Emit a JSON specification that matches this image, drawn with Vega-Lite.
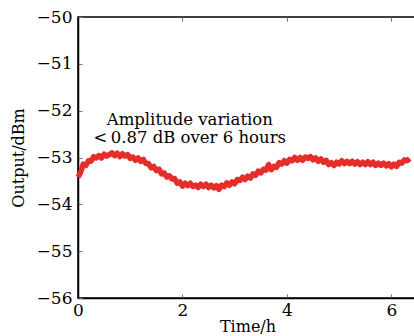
{
  "$schema": "https://vega.github.io/schema/vega-lite/v6.json",
  "autosize": "none",
  "width": 339,
  "height": 281,
  "padding": {"left": 78, "top": 17, "right": 0, "bottom": 38},
  "background": "white",
  "config": {
    "view": {"stroke": "black", "strokeWidth": 1.5},
    "font": "DejaVu Serif",
    "axis": {
      "labelFont": "DejaVu Serif",
      "titleFont": "DejaVu Serif",
      "labelFontSize": 17,
      "titleFontSize": 16,
      "titleFontWeight": "normal",
      "labelColor": "black",
      "titleColor": "black",
      "domainColor": "black",
      "domainWidth": 1.5,
      "tickColor": "#777777",
      "tickSize": -4,
      "tickWidth": 1,
      "grid": false
    }
  },
  "resolve": {"axis": {"x": "independent"}},
  "layer": [
    {
      "data": {"values": [
        {"t":0.00,"v":-53.42},{"t":0.05,"v":-53.32},{"t":0.10,"v":-53.14},{"t":0.15,"v":-53.17},{"t":0.20,"v":-53.07},
        {"t":0.25,"v":-53.08},{"t":0.30,"v":-52.98},{"t":0.35,"v":-53.01},{"t":0.40,"v":-52.96},{"t":0.45,"v":-53.01},
        {"t":0.50,"v":-52.93},{"t":0.55,"v":-52.97},{"t":0.60,"v":-52.94},{"t":0.65,"v":-52.90},{"t":0.70,"v":-52.96},
        {"t":0.75,"v":-52.91},{"t":0.80,"v":-52.98},{"t":0.85,"v":-52.92},{"t":0.90,"v":-52.97},{"t":0.95,"v":-52.94},
        {"t":1.00,"v":-53.02},{"t":1.05,"v":-52.99},{"t":1.10,"v":-53.06},{"t":1.15,"v":-53.01},{"t":1.20,"v":-53.08},
        {"t":1.25,"v":-53.04},{"t":1.30,"v":-53.13},{"t":1.35,"v":-53.13},{"t":1.40,"v":-53.22},{"t":1.45,"v":-53.19},
        {"t":1.50,"v":-53.28},{"t":1.55,"v":-53.25},{"t":1.60,"v":-53.35},{"t":1.65,"v":-53.33},{"t":1.70,"v":-53.42},
        {"t":1.75,"v":-53.39},{"t":1.80,"v":-53.46},{"t":1.85,"v":-53.45},{"t":1.90,"v":-53.55},{"t":1.95,"v":-53.52},
        {"t":2.00,"v":-53.61},{"t":2.05,"v":-53.55},{"t":2.10,"v":-53.60},{"t":2.15,"v":-53.55},{"t":2.20,"v":-53.62},
        {"t":2.25,"v":-53.59},{"t":2.30,"v":-53.64},{"t":2.35,"v":-53.57},{"t":2.40,"v":-53.62},{"t":2.45,"v":-53.57},
        {"t":2.50,"v":-53.64},{"t":2.55,"v":-53.59},{"t":2.60,"v":-53.65},{"t":2.65,"v":-53.60},{"t":2.70,"v":-53.68},
        {"t":2.75,"v":-53.59},{"t":2.80,"v":-53.62},{"t":2.85,"v":-53.54},{"t":2.90,"v":-53.59},{"t":2.95,"v":-53.52},
        {"t":3.00,"v":-53.56},{"t":3.05,"v":-53.47},{"t":3.10,"v":-53.49},{"t":3.15,"v":-53.42},{"t":3.20,"v":-53.47},
        {"t":3.25,"v":-53.40},{"t":3.30,"v":-53.44},{"t":3.35,"v":-53.35},{"t":3.40,"v":-53.38},{"t":3.45,"v":-53.29},
        {"t":3.50,"v":-53.33},{"t":3.55,"v":-53.25},{"t":3.60,"v":-53.27},{"t":3.65,"v":-53.15},{"t":3.70,"v":-53.26},
        {"t":3.75,"v":-53.19},{"t":3.80,"v":-53.21},{"t":3.85,"v":-53.11},{"t":3.90,"v":-53.14},{"t":3.95,"v":-53.07},
        {"t":4.00,"v":-53.12},{"t":4.05,"v":-53.04},{"t":4.10,"v":-53.07},{"t":4.15,"v":-53.00},{"t":4.20,"v":-53.06},
        {"t":4.25,"v":-53.00},{"t":4.30,"v":-53.06},{"t":4.35,"v":-52.99},{"t":4.40,"v":-53.02},{"t":4.45,"v":-52.98},
        {"t":4.50,"v":-53.05},{"t":4.55,"v":-53.01},{"t":4.60,"v":-53.08},{"t":4.65,"v":-53.03},{"t":4.70,"v":-53.10},
        {"t":4.75,"v":-53.06},{"t":4.80,"v":-53.15},{"t":4.85,"v":-53.11},{"t":4.90,"v":-53.17},{"t":4.95,"v":-53.10},
        {"t":5.00,"v":-53.14},{"t":5.05,"v":-53.07},{"t":5.10,"v":-53.13},{"t":5.15,"v":-53.08},{"t":5.20,"v":-53.13},
        {"t":5.25,"v":-53.08},{"t":5.30,"v":-53.14},{"t":5.35,"v":-53.09},{"t":5.40,"v":-53.15},{"t":5.45,"v":-53.10},
        {"t":5.50,"v":-53.15},{"t":5.55,"v":-53.09},{"t":5.60,"v":-53.15},{"t":5.65,"v":-53.10},{"t":5.70,"v":-53.17},
        {"t":5.75,"v":-53.12},{"t":5.80,"v":-53.17},{"t":5.85,"v":-53.12},{"t":5.90,"v":-53.18},{"t":5.95,"v":-53.13},
        {"t":6.00,"v":-53.20},{"t":6.05,"v":-53.14},{"t":6.10,"v":-53.19},{"t":6.15,"v":-53.10},{"t":6.20,"v":-53.12},
        {"t":6.25,"v":-53.05},{"t":6.30,"v":-53.07},{"t":6.35,"v":-53.02}
      ]},
      "mark": {"type": "line", "color": "#e52d2a", "strokeWidth": 5.5, "strokeJoin": "round", "interpolate": "linear"},
      "encoding": {
        "x": {"field": "t", "type": "quantitative",
              "scale": {"domain": [0, 6.49], "nice": false, "zero": false},
              "axis": {"orient": "bottom", "values": [0, 2, 4, 6], "title": "Time/h", "labelPadding": 8, "titlePadding": 0, "labelFlush": false}},
        "y": {"field": "v", "type": "quantitative",
              "scale": {"domain": [-56, -50], "nice": false, "zero": false},
              "axis": {"values": [-56, -55, -54, -53, -52, -51, -50], "title": "Output/dBm", "labelPadding": 10, "titlePadding": 10}}
      }
    },
    {
      "data": {"values": [
        {"t": 2.14, "v": -52.2, "label": "Amplitude variation"},
        {"t": 2.14, "v": -52.59, "label": "<\u20090.87 dB over 6 hours"}
      ]},
      "mark": {"type": "text", "font": "DejaVu Serif", "fontSize": 16.5, "color": "black", "align": "center", "baseline": "middle"},
      "encoding": {
        "x": {"field": "t", "type": "quantitative",
              "axis": {"orient": "top", "values": [0, 2, 4, 6], "labels": false, "title": null, "domain": false}},
        "y": {"field": "v", "type": "quantitative"},
        "text": {"field": "label"}
      }
    }
  ]
}
